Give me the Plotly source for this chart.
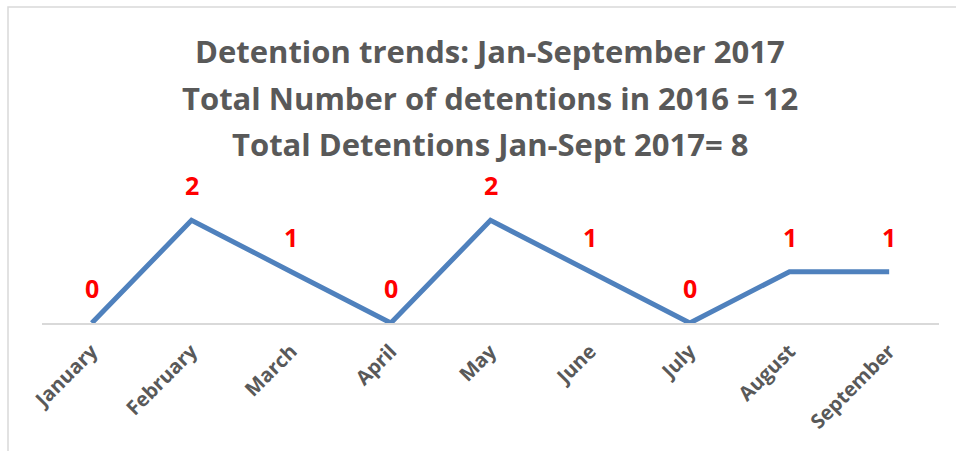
import plotly.graph_objects as go

months = ["January", "February", "March", "April", "May", "June", "July", "August", "September"]
detentions = [0, 2, 1, 0, 2, 1, 0, 1, 1]
title_lines = [
    "Detention trends: Jan-September 2017",
    "Total Number of detentions in 2016 = 12",
    "Total Detentions Jan-Sept 2017= 8",
]

W, H = 956, 451
L, R, T, B = 42, 17, 168.5, 128
plot_h = H - T - B
plot_w = W - L - R

def px_x(p):
    return (p - L) / plot_w

def px_y(q):
    return (H - B - q) / plot_h

FONT = "Open Sans, Liberation Sans, sans-serif"
GREY = "#595959"

fig = go.Figure()
fig.add_trace(go.Scatter(
    x=months, y=detentions, mode="lines",
    line=dict(color="#4f81bd", width=5),
    hoverinfo="x+y", showlegend=False,
))

annotations = []
for m, v in zip(months, detentions):
    annotations.append(dict(
        x=m, y=v, xref="x", yref="y", text=f"<b>{v}</b>", showarrow=False,
        yshift=35, font=dict(family=FONT, size=25, color="#ff0000"),
    ))

title_y = [50, 97, 143]
for t, q in zip(title_lines, title_y):
    annotations.append(dict(
        x=px_x(490), y=px_y(q), xref="paper", yref="paper", text=f"<b>{t}</b>",
        showarrow=False, xanchor="center", yanchor="middle",
        font=dict(family=FONT, size=31, color=GREY),
    ))

fig.update_layout(
    width=W, height=H, autosize=False,
    margin=dict(l=L, r=R, t=T, b=B, pad=0, autoexpand=False),
    paper_bgcolor="white", plot_bgcolor="white",
    annotations=annotations,
    shapes=[dict(
        type="rect", xref="paper", yref="paper",
        x0=px_x(8), x1=px_x(1000), y0=px_y(500), y1=px_y(6),
        line=dict(color="#d9d9d9", width=1.5), fillcolor="rgba(0,0,0,0)", layer="below",
    )],
)
fig.update_xaxes(
    type="category", range=[-0.5, len(months) - 0.5], autorange=False,
    showgrid=False, zeroline=False, automargin=False,
    showline=True, linecolor="#d9d9d9", linewidth=1.5,
    tickangle=-45, ticks="", ticklen=0, ticklabelstandoff=7,
    tickfont=dict(family=FONT, size=20, color=GREY),
    tickprefix="<b>", ticksuffix="</b>",
)
fig.update_yaxes(range=[0, 3], visible=False, showgrid=False, zeroline=False, automargin=False)

fig.write_html(
    "out.html",
    config={"responsive": False, "displayModeBar": False},
    post_script="document.body.style.margin='0';document.body.style.overflow='hidden';",
)
